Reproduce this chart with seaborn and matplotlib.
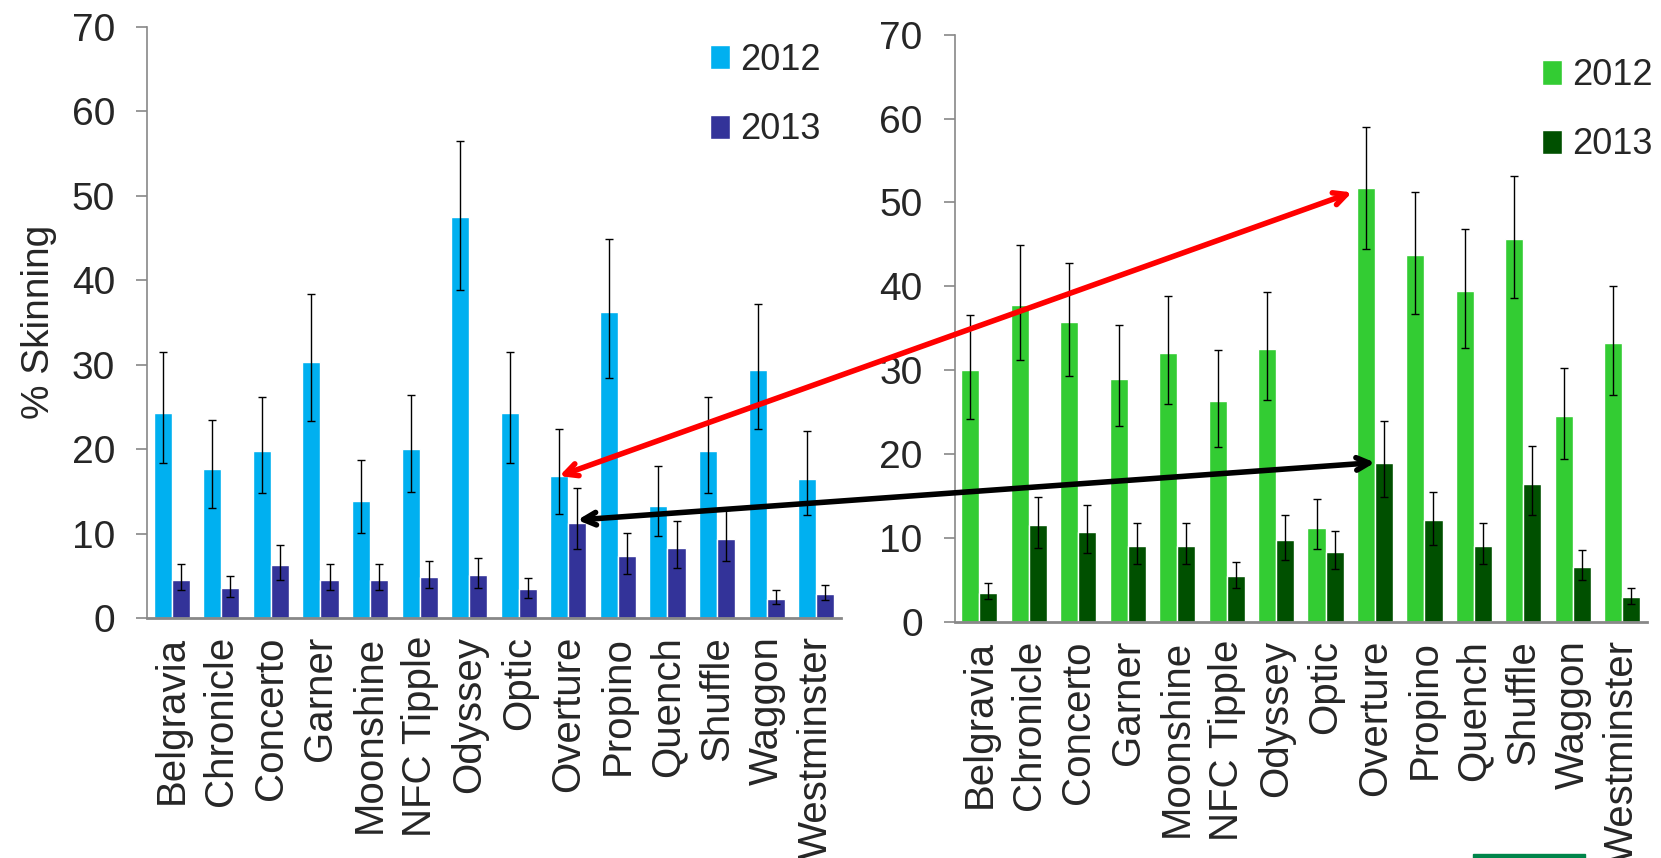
import numpy as np
import pandas as pd
import seaborn as sns
import matplotlib
matplotlib.use('Agg')
import matplotlib.pyplot as plt
from matplotlib.patches import ConnectionPatch, Rectangle

# 数据：两个试验点的 % Skinning（2012 / 2013），含不对称误差范围
varieties = ['Belgravia', 'Chronicle', 'Concerto', 'Garner', 'Moonshine', 'NFC Tipple',
             'Odyssey', 'Optic', 'Overture', 'Propino', 'Quench', 'Shuffle', 'Waggon',
             'Westminster']
years = ['2012', '2013']

left_2012 = [24.3, 17.6, 19.8, 30.3, 13.8, 20.0, 47.5, 24.3, 16.8, 36.2, 13.3, 19.8, 29.3, 16.5]
left_2012_hi = [31.5, 23.4, 26.2, 38.4, 18.7, 26.4, 56.4, 31.5, 22.4, 44.9, 18.0, 26.2, 37.2, 22.1]
left_2012_lo = [18.3, 13.0, 14.8, 23.3, 10.1, 14.9, 38.8, 18.3, 12.3, 28.4, 9.7, 14.8, 22.4, 12.2]

left_2013 = [4.5, 3.6, 6.3, 4.5, 4.5, 4.8, 5.1, 3.4, 11.2, 7.3, 8.3, 9.3, 2.3, 2.8]
left_2013_hi = [6.4, 5.0, 8.7, 6.4, 6.4, 6.7, 7.1, 4.7, 15.4, 10.1, 11.5, 12.8, 3.3, 3.9]
left_2013_lo = [3.3, 2.5, 4.5, 3.3, 3.3, 3.5, 3.6, 2.4, 8.2, 5.2, 5.9, 6.8, 1.6, 2.1]

right_2012 = [30.0, 37.8, 35.7, 29.0, 32.0, 26.3, 32.5, 11.2, 51.7, 43.7, 39.4, 45.7, 24.5, 33.2]
right_2012_hi = [36.6, 44.9, 42.8, 35.4, 38.8, 32.4, 39.3, 14.6, 59.0, 51.2, 46.8, 53.1, 30.3, 40.1]
right_2012_lo = [24.2, 31.2, 29.3, 23.3, 26.0, 20.9, 26.4, 8.7, 44.4, 36.7, 32.7, 38.6, 19.4, 27.1]

right_2013 = [3.5, 11.5, 10.7, 9.0, 9.0, 5.5, 9.8, 8.3, 19.0, 12.1, 9.0, 16.4, 6.6, 3.0]
right_2013_hi = [4.6, 14.9, 14.0, 11.8, 11.8, 7.2, 12.7, 10.8, 24.0, 15.5, 11.8, 21.0, 8.6, 4.0]
right_2013_lo = [2.7, 8.8, 8.2, 6.9, 6.9, 4.1, 7.4, 6.3, 14.9, 9.2, 6.9, 12.8, 5.0, 2.1]

yticks = [0, 10, 20, 30, 40, 50, 60, 70]

sns.set_theme(style='white')
plt.rcParams['font.family'] = ['Liberation Sans', 'DejaVu Sans']

FS = 28
XFS = 29
LFS = 26
GREY = '#888888'


def make_df(v12, v13):
    return pd.DataFrame({
        'variety': varieties * 2,
        'year': [years[0]] * len(varieties) + [years[1]] * len(varieties),
        'pct': list(v12) + list(v13),
    })


def draw_panel(ax, v12, v13, err, colors, legend_anchor):
    df = make_df(v12, v13)
    sns.barplot(data=df, x='variety', y='pct', hue='year', palette=colors,
                width=0.73, errorbar=None, saturation=1, ax=ax)

    # 误差线（不对称）
    for cont, (vals, hi, lo) in zip(ax.containers, err):
        xs = [b.get_x() + b.get_width() / 2 for b in cont]
        vals = np.array(vals)
        yerr = np.vstack([vals - np.array(lo), np.array(hi) - vals])
        ax.errorbar(xs, vals, yerr=yerr, fmt='none', ecolor='black',
                    elinewidth=1.0, capsize=3, capthick=1.0)

    ax.set_ylim(0, 70)
    ax.set_xlim(-0.5, len(varieties) - 0.5)
    ax.set_yticks(yticks)
    ax.set_xlabel('')
    ax.set_ylabel('')
    ax.set_xticks(range(len(varieties)))
    ax.set_xticklabels(varieties, rotation=90, fontsize=XFS)
    ax.set_xticks(np.arange(-0.5, len(varieties), 1.0), minor=True)
    ax.tick_params(axis='x', which='major', length=0, pad=13)
    ax.tick_params(axis='x', which='minor', length=9, width=1.2, color=GREY, direction='out')
    ax.tick_params(axis='y', length=8, width=1.2, color=GREY, direction='out',
                   left=True, labelsize=FS, pad=15)
    sns.despine(ax=ax)
    for s in ['left', 'bottom']:
        ax.spines[s].set_color(GREY)
    ax.spines['left'].set_linewidth(1.2)
    ax.spines['bottom'].set_linewidth(2.0)

    ax.legend(loc='upper left', bbox_to_anchor=legend_anchor, frameon=False,
              fontsize=LFS, handlelength=0.55, handleheight=0.65,
              handletextpad=0.3, labelspacing=0.95, borderpad=0, borderaxespad=0)


fig = plt.figure(figsize=(16.61, 8.58), dpi=100)
ax1 = fig.add_axes([0.0885, 0.2797, 0.4178, 0.6894])
ax2 = fig.add_axes([0.5747, 0.2751, 0.4169, 0.6845])

draw_panel(ax1, left_2012, left_2013,
           [(left_2012, left_2012_hi, left_2012_lo), (left_2013, left_2013_hi, left_2013_lo)],
           ['#00B0F0', '#333399'], (0.811, 0.972))
draw_panel(ax2, right_2012, right_2013,
           [(right_2012, right_2012_hi, right_2012_lo), (right_2013, right_2013_hi, right_2013_lo)],
           ['#33CC33', '#005000'], (0.848, 0.960))

ax1.set_ylabel('% Skinning', fontsize=FS)
ax1.yaxis.set_label_coords(-0.13, 0.5)

# Overture 的对比箭头（左图 -> 右图）
ov = varieties.index('Overture')
b1_12 = ax1.containers[0][ov]
b1_13 = ax1.containers[1][ov]
b2_12 = ax2.containers[0][ov]
b2_13 = ax2.containers[1][ov]

red = ConnectionPatch(xyA=(b1_12.get_x() + b1_12.get_width() / 2, left_2012[ov]),
                      coordsA=ax1.transData,
                      xyB=(b2_12.get_x() - 0.1, right_2012[ov] - 0.5),
                      coordsB=ax2.transData,
                      arrowstyle='<->,head_length=0.9,head_width=0.45',
                      color='#FF0000', lw=4)
black = ConnectionPatch(xyA=(b1_13.get_x() + b1_13.get_width() / 2, left_2013[ov] + 0.4),
                        coordsA=ax1.transData,
                        xyB=(b2_13.get_x(), right_2013[ov]),
                        coordsB=ax2.transData,
                        arrowstyle='<->,head_length=0.9,head_width=0.45',
                        color='black', lw=4)
fig.add_artist(red)
fig.add_artist(black)

# 右下角被截掉的徽标
fig.add_artist(Rectangle((1473 / 1661, 0), 112 / 1661, 4 / 858,
                         transform=fig.transFigure, color='#00854A', clip_on=False))

fig.savefig('out.png', dpi=100)
